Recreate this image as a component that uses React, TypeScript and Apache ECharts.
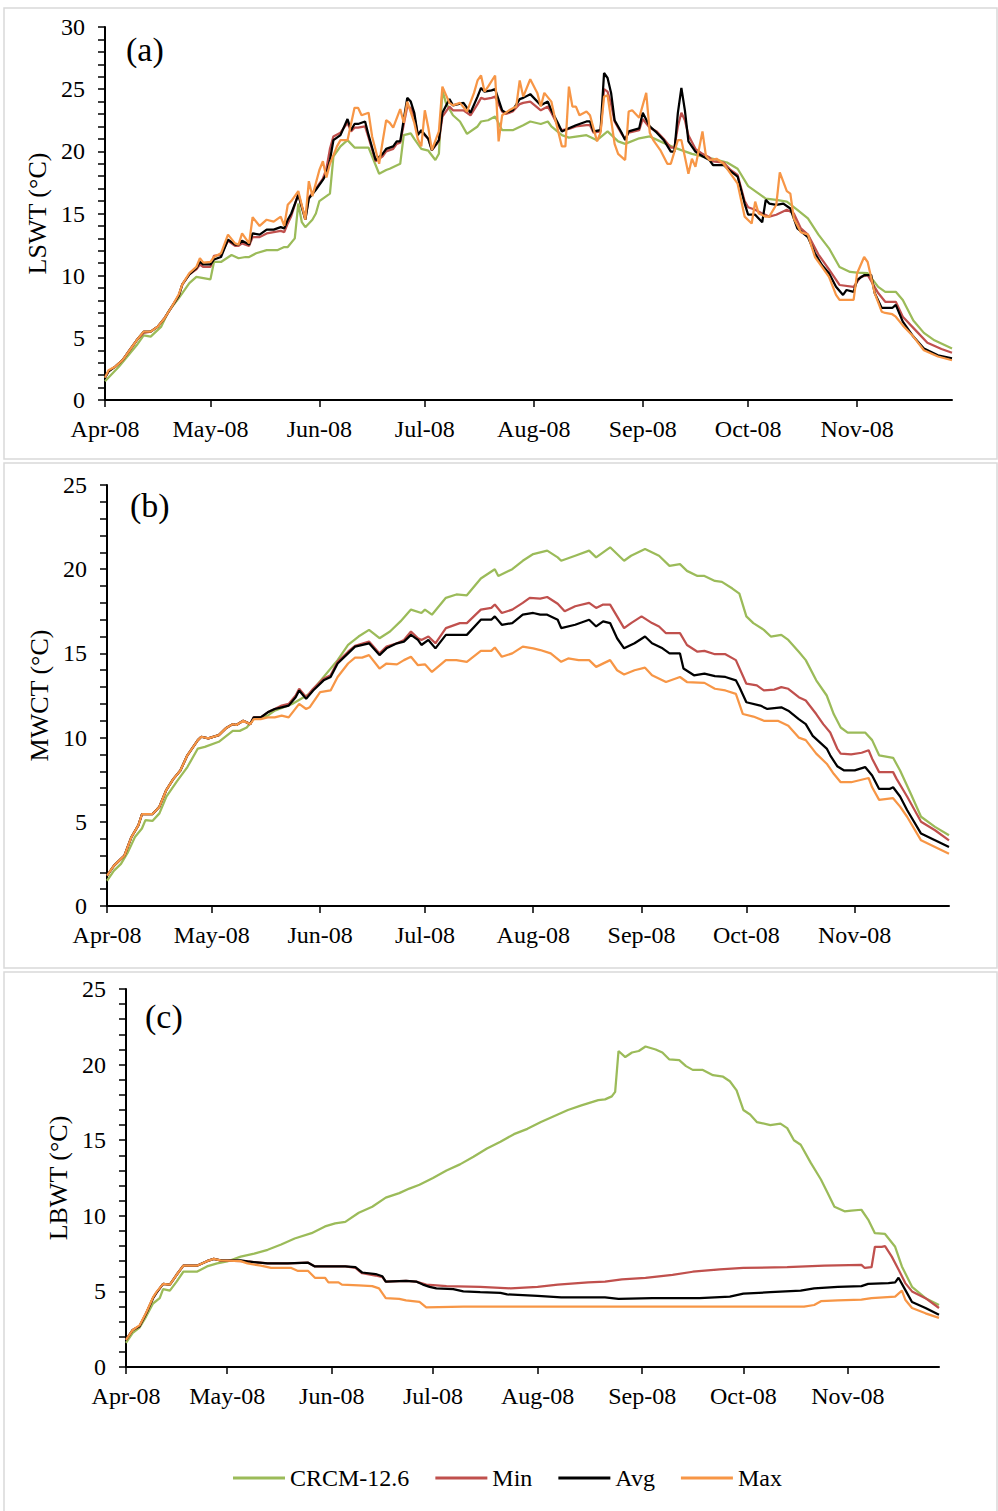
import React, { useEffect, useRef } from "react";
import * as echarts from "echarts";

// ---- Axis categories / tick labels ----
const N_DAYS = 242; // Apr 1 2008 .. Nov 28 2008
const MONTH_STARTS = [0, 30, 61, 91, 122, 153, 183, 214];
const MONTH_LABELS = ["Apr-08", "May-08", "Jun-08", "Jul-08", "Aug-08", "Sep-08", "Oct-08", "Nov-08"];
const SERIES_NAMES = ["CRCM-12.6", "Min", "Avg", "Max"];
const COLORS = ["#9BBB59", "#C0504D", "#000000", "#F79646"];

// ---- Panel (a) LSWT : [day index, value] ----
const lswtCRCM = [[0,1.5],[4,2.7],[9,4.4],[11,5.2],[13,5.1],[16,5.9],[18,7.1],[21,8.2],[24,9.4],[26,9.9],[28,9.8],[30,9.7],[31,11.1],[33,11.1],[36,11.66],[38,11.4],[40,11.5],[41,11.5],[43,11.8],[46,12.05],[49,12.05],[51,12.3],[52,12.3],[54,13.0],[55,15.8],[56,14.3],[57,13.9],[59,14.5],[60,15.0],[61,16.0],[63,16.4],[64,16.6],[65,19.6],[67,20.4],[69,20.9],[71,20.3],[75,20.3],[76,19.6],[78,18.2],[80,18.5],[81,18.6],[84,19.0],[85,21.3],[87,21.45],[88,21.0],[90,20.2],[92,20.05],[94,19.3],[95,19.8],[96,24.9],[97,23.9],[99,22.9],[101,22.4],[103,21.4],[106,22.0],[107,22.4],[109,22.5],[111,22.8],[113,21.7],[116,21.7],[119,22.1],[121,22.4],[124,22.2],[126,22.4],[127,22.0],[130,21.3],[132,21.1],[137,21.3],[140,20.9],[143,21.6],[146,20.8],[148,20.6],[152,21.05],[155,21.2],[158,20.8],[162,20.3],[167,19.8],[173,19.4],[177,19.1],[180,18.6],[183,17.2],[185,16.8],[188,16.2],[191,16.1],[194,15.96],[197,15.3],[200,14.6],[203,13.3],[206,12.2],[209,10.7],[212,10.3],[214,10.25],[217,10.2],[220,9.1],[222,8.7],[225,8.7],[227,8.05],[230,6.4],[233,5.4],[236,4.8],[241,4.15]];
const lswtMin = [[0,1.8],[1,2.3],[3,2.7],[5,3.2],[7,4.0],[9,4.8],[11,5.4],[13,5.5],[15,5.9],[17,6.6],[19,7.5],[21,8.4],[22,9.3],[24,10.1],[26,10.5],[27,10.9],[28,10.7],[30,10.7],[31,11.6],[33,11.7],[35,12.8],[37,12.4],[38,12.4],[39,12.6],[41,12.4],[42,13.1],[44,13.1],[46,13.4],[48,13.5],[50,13.6],[51,13.5],[52,14.2],[53,14.8],[55,16.6],[57,14.6],[58,16.3],[60,17.0],[62,17.8],[63,18.6],[64,20.2],[65,21.2],[67,21.5],[69,22.3],[70,21.6],[71,21.9],[72,21.9],[74,22.0],[75,21.1],[77,19.2],[79,19.6],[80,20.0],[82,20.2],[83,20.6],[84,20.7],[86,23.6],[87,23.5],[88,22.8],[89,21.4],[90,21.6],[92,21.0],[93,20.1],[95,20.8],[96,22.8],[98,23.6],[99,23.3],[102,23.3],[104,22.9],[106,23.8],[107,24.3],[108,24.2],[110,24.3],[111,24.4],[113,23.2],[114,23.0],[116,23.2],[118,23.8],[119,23.9],[121,24.0],[124,23.3],[126,23.6],[127,23.1],[129,22.0],[130,21.7],[132,21.8],[134,22.0],[137,22.1],[138,22.1],[139,21.5],[141,21.6],[142,25.0],[143,24.8],[144,23.8],[145,22.4],[147,21.4],[148,21.0],[149,21.5],[152,21.7],[153,22.6],[155,21.9],[157,21.6],[159,21.0],[161,20.3],[162,20.3],[163,22.0],[164,23.1],[165,22.5],[166,21.3],[168,20.2],[170,19.8],[172,19.5],[173,19.2],[176,19.1],[178,18.5],[180,18.1],[182,16.0],[183,15.5],[185,15.3],[187,15.0],[189,14.75],[191,14.9],[194,15.3],[196,15.0],[198,13.8],[200,13.3],[203,11.7],[206,10.5],[209,9.25],[213,9.1],[215,9.9],[217,10.05],[220,8.6],[222,7.9],[225,7.9],[227,6.7],[231,5.5],[234,4.6],[238,4.1],[241,3.8]];
const lswtAvg = [[0,1.8],[1,2.3],[3,2.7],[5,3.2],[7,4.0],[9,4.8],[11,5.5],[13,5.5],[15,5.9],[17,6.6],[19,7.5],[21,8.4],[22,9.3],[24,10.1],[26,10.6],[27,11.1],[28,10.9],[30,10.9],[31,11.3],[33,11.5],[35,12.9],[37,12.5],[38,12.5],[39,12.8],[41,12.5],[42,13.4],[44,13.3],[46,13.7],[48,13.7],[50,13.9],[51,13.8],[52,14.5],[53,15.0],[55,16.5],[57,14.5],[58,16.2],[60,16.9],[62,17.7],[63,18.2],[64,19.3],[65,20.9],[67,21.3],[69,22.6],[70,21.7],[71,22.2],[72,22.2],[74,22.4],[75,21.3],[77,19.3],[79,19.8],[80,20.2],[82,20.4],[83,20.8],[84,20.8],[86,24.3],[87,24.0],[88,23.1],[89,21.3],[90,21.7],[92,21.0],[93,20.1],[95,20.9],[96,23.1],[98,24.2],[99,23.7],[102,23.9],[104,23.1],[106,24.4],[107,25.1],[108,24.8],[110,24.9],[111,25.0],[113,23.3],[114,23.1],[116,23.3],[118,24.2],[119,24.3],[121,24.6],[124,23.7],[126,24.0],[127,23.3],[129,22.2],[130,21.6],[132,21.85],[134,22.1],[137,22.4],[138,22.4],[139,21.6],[141,21.7],[142,26.3],[143,25.9],[144,24.7],[145,22.5],[147,21.5],[148,20.9],[149,21.6],[152,21.85],[153,23.1],[155,22.0],[157,21.5],[159,20.9],[161,19.98],[162,19.98],[163,23.1],[164,25.1],[165,23.3],[166,20.8],[168,19.98],[170,19.6],[172,19.3],[173,18.9],[176,18.9],[178,18.4],[180,17.97],[182,15.8],[183,14.9],[185,14.9],[187,14.3],[188,16.1],[189,15.8],[191,15.7],[193,15.8],[195,15.4],[197,13.8],[200,13.1],[202,11.8],[204,10.85],[206,10.2],[208,9.1],[210,8.45],[211,8.85],[213,8.7],[214,9.65],[216,10.05],[218,10.05],[219,8.6],[221,7.4],[224,7.4],[225,7.65],[227,6.3],[230,5.1],[233,4.15],[237,3.6],[241,3.35]];
const lswtMax = [[0,1.8],[1,2.4],[3,2.7],[5,3.2],[7,4.0],[9,4.8],[11,5.5],[13,5.5],[15,5.9],[17,6.6],[19,7.5],[21,8.5],[22,9.3],[24,10.2],[26,10.7],[27,11.4],[28,11.05],[30,11.1],[31,11.5],[33,11.8],[35,13.3],[37,12.6],[38,12.5],[39,13.4],[41,12.6],[42,14.7],[44,14.0],[46,14.5],[48,14.35],[50,14.75],[51,14.0],[52,15.7],[53,16.0],[55,16.8],[57,14.5],[58,17.6],[59,16.4],[61,18.5],[62,19.2],[63,17.9],[64,19.0],[65,19.7],[66,20.4],[67,20.9],[69,20.9],[71,23.5],[72,23.5],[73,22.9],[75,23.1],[76,21.2],[78,19.0],[79,20.8],[80,22.5],[81,22.3],[82,21.9],[84,23.4],[85,22.3],[86,24.0],[88,22.3],[89,21.0],[90,20.4],[91,23.3],[92,21.9],[93,20.1],[95,21.6],[96,25.2],[98,23.9],[99,23.7],[101,23.9],[103,23.2],[105,24.7],[106,25.7],[107,26.1],[108,24.8],[109,25.2],[111,26.1],[112,20.8],[113,22.9],[115,23.3],[117,23.6],[118,25.7],[119,24.4],[121,25.8],[123,24.7],[124,23.6],[125,24.7],[127,24.0],[128,22.7],[130,20.4],[131,20.4],[132,25.2],[133,23.6],[134,23.6],[135,22.9],[137,23.2],[138,22.9],[140,20.8],[141,21.5],[142,24.4],[143,24.5],[145,20.6],[146,19.8],[148,19.3],[149,23.2],[150,23.3],[152,22.7],[154,24.7],[155,21.5],[156,20.9],[158,20.1],[160,19.0],[161,19.0],[163,20.9],[164,20.9],[166,18.2],[167,19.4],[168,18.75],[170,21.6],[171,19.6],[172,19.3],[174,19.4],[176,19.0],[178,18.2],[180,17.4],[182,14.75],[184,14.2],[185,15.96],[186,15.0],[188,14.75],[189,14.75],[191,15.7],[192,18.3],[194,16.8],[195,16.6],[196,14.6],[198,13.5],[200,13.3],[202,11.5],[204,10.7],[206,9.9],[208,8.45],[209,8.05],[213,8.05],[214,10.2],[216,11.5],[217,11.1],[219,8.6],[221,7.1],[222,7.0],[224,6.9],[225,6.7],[227,6.0],[230,5.1],[233,4.0],[237,3.5],[241,3.2]];

// ---- Panel (b) MWCT ----
const mwctCRCM = [[0,1.5],[2,2.1],[4,2.5],[6,3.2],[8,4.1],[10,4.6],[11,5.1],[13,5.05],[15,5.5],[17,6.5],[20,7.4],[23,8.25],[26,9.35],[28,9.45],[32,9.75],[36,10.4],[38,10.4],[40,10.6],[42,11.1],[46,11.3],[48,11.6],[53,12.0],[58,12.6],[62,13.6],[66,14.6],[69,15.5],[72,16.0],[75,16.4],[78,15.9],[81,16.3],[84,16.9],[87,17.6],[90,17.4],[91,17.6],[93,17.3],[97,18.3],[100,18.5],[103,18.45],[107,19.45],[111,20.0],[112,19.6],[116,20.0],[119,20.5],[122,20.9],[126,21.1],[129,20.7],[130,20.5],[134,20.8],[138,21.1],[140,20.7],[144,21.3],[148,20.5],[150,20.8],[154,21.2],[158,20.8],[161,20.2],[164,20.3],[166,19.9],[169,19.6],[171,19.6],[174,19.3],[176,19.25],[179,18.85],[181,18.55],[183,17.2],[185,16.8],[188,16.4],[190,16.0],[193,16.1],[195,15.8],[198,15.1],[200,14.6],[203,13.4],[206,12.5],[208,11.4],[210,10.6],[212,10.3],[217,10.3],[219,9.85],[221,8.95],[225,8.8],[227,8.05],[230,6.7],[233,5.3],[237,4.7],[241,4.2]];
const mwctMin = [[0,1.8],[2,2.4],[4,2.8],[5,3.0],[7,4.1],[9,4.8],[10,5.45],[13,5.45],[15,5.9],[17,6.9],[19,7.55],[21,8.05],[23,8.95],[26,9.85],[27,10.05],[29,9.95],[32,10.15],[34,10.55],[36,10.8],[37,10.75],[39,11.0],[41,10.8],[42,11.2],[44,11.2],[46,11.5],[48,11.7],[50,11.9],[52,12.0],[54,12.5],[55,12.9],[57,12.4],[59,12.9],[62,13.5],[64,13.7],[66,14.5],[69,15.1],[71,15.45],[75,15.7],[78,15.0],[80,15.4],[83,15.6],[85,15.8],[87,16.3],[89,15.9],[90,15.8],[92,16.0],[94,15.6],[97,16.5],[101,16.8],[103,16.8],[107,17.6],[110,17.7],[111,17.9],[113,17.4],[116,17.6],[119,18.0],[121,18.3],[124,18.25],[126,18.35],[129,17.95],[131,17.5],[134,17.8],[138,18.0],[140,17.7],[142,17.9],[144,17.9],[146,17.2],[148,16.5],[150,16.8],[153,17.2],[156,16.8],[158,16.6],[160,16.2],[164,16.2],[166,15.5],[169,15.1],[171,15.15],[174,14.95],[177,14.95],[180,14.6],[183,13.2],[186,13.1],[188,12.8],[191,12.85],[193,13.0],[195,12.9],[198,12.4],[200,12.2],[203,11.4],[205,10.8],[207,10.3],[209,9.35],[210,9.05],[213,9.0],[216,9.1],[218,9.25],[219,8.75],[221,7.95],[225,7.95],[226,7.55],[229,6.5],[233,5.0],[237,4.5],[241,3.9]];
const mwctAvg = [[0,1.8],[2,2.4],[4,2.8],[5,3.0],[7,4.1],[9,4.8],[10,5.45],[13,5.45],[15,5.9],[17,6.9],[19,7.55],[21,8.05],[23,8.95],[26,9.85],[27,10.05],[29,9.95],[32,10.15],[34,10.55],[36,10.8],[37,10.75],[39,11.0],[41,10.8],[42,11.2],[44,11.2],[46,11.5],[48,11.7],[50,11.8],[52,11.9],[54,12.4],[55,12.8],[57,12.3],[59,12.8],[62,13.4],[64,13.6],[66,14.4],[69,15.0],[71,15.4],[75,15.6],[78,14.9],[80,15.3],[83,15.6],[85,15.7],[87,16.1],[89,15.8],[90,15.5],[92,15.8],[94,15.3],[97,16.1],[101,16.1],[103,16.1],[107,17.0],[110,17.0],[111,17.2],[113,16.7],[116,16.8],[119,17.3],[122,17.4],[124,17.3],[126,17.3],[129,17.0],[130,16.5],[134,16.7],[138,17.0],[140,16.6],[142,16.9],[144,16.8],[146,15.9],[148,15.3],[151,15.6],[154,16.0],[156,15.6],[159,15.3],[161,15.0],[164,15.0],[165,14.1],[168,13.7],[171,13.8],[174,13.65],[177,13.6],[180,13.4],[181,13.0],[183,12.1],[187,11.9],[189,11.7],[193,11.8],[195,11.6],[198,11.1],[200,10.8],[202,10.1],[206,9.35],[207,8.95],[209,8.3],[211,8.05],[214,8.05],[217,8.25],[219,7.75],[221,6.95],[224,6.95],[225,7.05],[227,6.5],[229,5.7],[233,4.3],[237,3.9],[241,3.5]];
const mwctMax = [[0,1.8],[2,2.4],[4,2.8],[5,3.0],[7,4.1],[9,4.8],[10,5.45],[13,5.45],[15,5.9],[17,6.9],[19,7.55],[21,8.05],[23,8.95],[26,9.85],[27,10.05],[29,9.95],[32,10.15],[34,10.55],[36,10.8],[37,10.75],[39,11.0],[41,10.8],[42,11.1],[44,11.1],[46,11.2],[48,11.2],[50,11.3],[52,11.2],[55,12.0],[57,11.7],[58,11.8],[61,12.7],[64,12.8],[66,13.6],[69,14.4],[71,14.75],[73,14.75],[75,14.9],[78,14.1],[80,14.4],[83,14.35],[85,14.6],[87,14.8],[89,14.3],[91,14.35],[93,13.9],[97,14.6],[100,14.6],[103,14.5],[107,15.15],[110,15.15],[111,15.35],[113,14.8],[116,15.0],[119,15.4],[122,15.3],[124,15.2],[127,15.0],[130,14.5],[132,14.7],[135,14.6],[138,14.6],[140,14.2],[144,14.6],[146,14.0],[148,13.75],[151,14.0],[154,14.15],[156,13.7],[160,13.3],[164,13.6],[166,13.3],[171,13.25],[174,12.9],[177,12.8],[180,12.6],[182,11.4],[185,11.25],[188,11.0],[192,11.0],[195,10.7],[198,10.0],[200,9.85],[203,9.05],[206,8.45],[208,7.85],[210,7.35],[213,7.35],[218,7.6],[219,7.05],[221,6.3],[225,6.4],[227,5.9],[229,5.3],[233,3.9],[237,3.5],[241,3.1]];

// ---- Panel (c) LBWT ----
const lbwtCRCM = [[0,1.6],[2,2.25],[4,2.6],[6,3.35],[8,4.2],[10,4.55],[11,5.15],[13,5.05],[15,5.65],[17,6.3],[21,6.3],[24,6.65],[27,6.85],[30,6.98],[34,7.3],[38,7.5],[42,7.75],[46,8.1],[50,8.5],[55,8.85],[59,9.3],[62,9.5],[65,9.6],[69,10.2],[73,10.6],[77,11.2],[81,11.5],[84,11.8],[87,12.05],[91,12.5],[95,13.0],[99,13.4],[103,13.9],[107,14.45],[111,14.9],[115,15.4],[119,15.75],[123,16.2],[127,16.6],[131,17.0],[135,17.3],[140,17.65],[142,17.7],[144,17.9],[145,18.2],[146,20.9],[148,20.5],[150,20.8],[152,20.9],[154,21.2],[157,21.0],[159,20.8],[161,20.35],[164,20.3],[166,19.9],[168,19.65],[171,19.65],[174,19.3],[177,19.2],[179,18.9],[181,18.3],[183,17.0],[185,16.7],[187,16.2],[191,16.0],[194,16.1],[196,15.8],[198,15.0],[200,14.7],[203,13.5],[206,12.4],[208,11.5],[210,10.6],[213,10.3],[215,10.35],[218,10.4],[220,9.75],[222,8.85],[225,8.8],[228,7.95],[230,6.65],[233,5.3],[237,4.55],[241,4.1]];
const lbwtMin = [[0,1.8],[2,2.45],[4,2.7],[6,3.55],[8,4.55],[9,4.9],[11,5.5],[13,5.45],[15,6.1],[17,6.7],[21,6.7],[24,7.0],[26,7.15],[28,7.05],[34,7.0],[36,6.98],[42,6.85],[48,6.85],[54,6.9],[56,6.65],[61,6.65],[65,6.65],[68,6.55],[70,6.2],[74,6.05],[76,5.95],[77,5.65],[83,5.7],[86,5.65],[89,5.45],[95,5.35],[105,5.3],[114,5.2],[122,5.3],[128,5.45],[137,5.6],[142,5.65],[147,5.8],[154,5.9],[162,6.1],[168,6.3],[176,6.45],[183,6.55],[196,6.6],[207,6.7],[218,6.75],[219,6.55],[221,6.6],[222,7.95],[224,7.95],[225,8.0],[227,7.3],[229,6.45],[231,5.55],[233,5.0],[237,4.55],[241,3.9]];
const lbwtAvg = [[0,1.8],[2,2.45],[4,2.7],[6,3.55],[8,4.55],[9,4.9],[11,5.5],[13,5.45],[15,6.1],[17,6.7],[21,6.7],[24,7.0],[26,7.15],[28,7.05],[34,7.05],[36,6.98],[42,6.85],[48,6.85],[54,6.9],[56,6.65],[61,6.65],[65,6.65],[68,6.6],[70,6.25],[74,6.15],[76,6.0],[77,5.65],[83,5.7],[86,5.65],[88,5.45],[90,5.3],[92,5.2],[97,5.15],[100,5.0],[105,4.95],[111,4.9],[113,4.8],[122,4.7],[129,4.6],[142,4.6],[146,4.5],[156,4.55],[170,4.55],[179,4.65],[183,4.85],[191,4.95],[200,5.05],[204,5.2],[211,5.3],[218,5.35],[220,5.5],[226,5.55],[228,5.6],[229,5.9],[231,5.1],[233,4.3],[237,3.9],[241,3.45]];
const lbwtMax = [[0,1.8],[2,2.45],[4,2.75],[6,3.6],[8,4.6],[9,4.95],[11,5.5],[13,5.45],[15,6.1],[17,6.7],[21,6.7],[24,7.0],[26,7.15],[28,7.05],[34,7.0],[36,6.85],[40,6.7],[43,6.55],[49,6.55],[51,6.35],[54,6.35],[56,5.9],[59,5.9],[60,5.6],[63,5.6],[64,5.45],[69,5.4],[73,5.35],[75,5.2],[77,4.55],[81,4.5],[83,4.4],[87,4.3],[89,3.95],[100,4.0],[150,4.0],[201,4.0],[204,4.1],[206,4.35],[211,4.4],[218,4.45],[221,4.55],[228,4.65],[230,5.05],[231,4.45],[233,3.9],[237,3.55],[241,3.25]];

const FONT = "'Liberation Serif', 'Times New Roman', serif";

export default function App() {
  const ref = useRef<HTMLDivElement>(null);

  useEffect(() => {
    if (!ref.current) return;
    const chart = echarts.init(ref.current, null, { renderer: "svg" });

    const categories = Array.from({ length: N_DAYS }, (_, i) => String(i));
    const isMonthStart = (index: number) => MONTH_STARTS.indexOf(index) >= 0;
    const monthLabel = (v: string) => {
      const k = MONTH_STARTS.indexOf(Number(v));
      return k >= 0 ? MONTH_LABELS[k] : "";
    };

    const panels = [
      { grid: { left: 105, top: 27, width: 847, height: 373 }, max: 30, name: "LSWT (°C)", gap: 52, data: [lswtCRCM, lswtMin, lswtAvg, lswtMax] },
      { grid: { left: 107, top: 485, width: 842, height: 421 }, max: 25, name: "MWCT (°C)", gap: 54, data: [mwctCRCM, mwctMin, mwctAvg, mwctMax] },
      { grid: { left: 126, top: 989, width: 813, height: 378 }, max: 25, name: "LBWT (°C)", gap: 54, data: [lbwtCRCM, lbwtMin, lbwtAvg, lbwtMax] },
    ];

    const axisLineStyle = { color: "#000", width: 2 };

    const option: any = {
      animation: false,
      backgroundColor: "#ffffff",
      textStyle: { fontFamily: FONT },
      grid: panels.map((p) => ({ ...p.grid, containLabel: false })),
      xAxis: panels.map((p, i) => ({
        type: "category",
        gridIndex: i,
        data: categories,
        boundaryGap: false,
        axisLine: { show: true, lineStyle: axisLineStyle },
        axisTick: { show: true, interval: (idx: number) => isMonthStart(idx), length: 7, lineStyle: { color: "#000", width: 1.5 } },
        axisLabel: {
          interval: (idx: number) => isMonthStart(idx),
          formatter: monthLabel,
          fontSize: 24,
          fontFamily: FONT,
          color: "#000",
          margin: 17,
        },
        splitLine: { show: false },
      })),
      yAxis: panels.map((p, i) => ({
        type: "value",
        gridIndex: i,
        min: 0,
        max: p.max,
        interval: 5,
        name: p.name,
        nameLocation: "middle",
        nameGap: p.gap,
        nameTextStyle: { fontSize: 26, fontFamily: FONT, color: "#000" },
        axisLine: { show: true, lineStyle: axisLineStyle },
        axisTick: { show: true, length: 7, lineStyle: { color: "#000", width: 1.5 } },
        minorTick: { show: true, splitNumber: 5, length: 7, lineStyle: { color: "#000", width: 1.5 } },
        axisLabel: { fontSize: 24, fontFamily: FONT, color: "#000", margin: 20 },
        splitLine: { show: false },
        minorSplitLine: { show: false },
      })),
      legend: {
        data: SERIES_NAMES,
        left: 228,
        top: 1461,
        icon: "rect",
        itemWidth: 52,
        itemHeight: 3,
        itemGap: 26,
        textStyle: { fontSize: 24, fontFamily: FONT, color: "#000" },
      },
      series: panels.flatMap((p, i) =>
        p.data.map((d, s) => ({
          type: "line",
          name: SERIES_NAMES[s],
          xAxisIndex: i,
          yAxisIndex: i,
          data: d,
          symbol: "none",
          showSymbol: false,
          lineStyle: { color: COLORS[s], width: 2.25 },
          itemStyle: { color: COLORS[s] },
          z: 2 + s,
        }))
      ),
      graphic: [
        { type: "rect", shape: { x: 4, y: 8, width: 993, height: 451 }, style: { fill: "none", stroke: "#d9d9d9", lineWidth: 1.5 }, silent: true },
        { type: "rect", shape: { x: 4, y: 463, width: 993, height: 505 }, style: { fill: "none", stroke: "#d9d9d9", lineWidth: 1.5 }, silent: true },
        { type: "rect", shape: { x: 4, y: 972, width: 993, height: 545 }, style: { fill: "none", stroke: "#d9d9d9", lineWidth: 1.5 }, silent: true },
        { type: "text", x: 126, y: 49, style: { text: "(a)", fontSize: 34, fontFamily: FONT, fill: "#000", verticalAlign: "middle" }, silent: true },
        { type: "text", x: 130, y: 505, style: { text: "(b)", fontSize: 34, fontFamily: FONT, fill: "#000", verticalAlign: "middle" }, silent: true },
        { type: "text", x: 145, y: 1016, style: { text: "(c)", fontSize: 34, fontFamily: FONT, fill: "#000", verticalAlign: "middle" }, silent: true },
      ],
    };

    chart.setOption(option);
    return () => chart.dispose();
  }, []);

  return (
    <div
      ref={ref}
      style={{ position: "absolute", left: 0, top: 0, width: 998, height: 1511, background: "#fff" }}
    />
  );
}
